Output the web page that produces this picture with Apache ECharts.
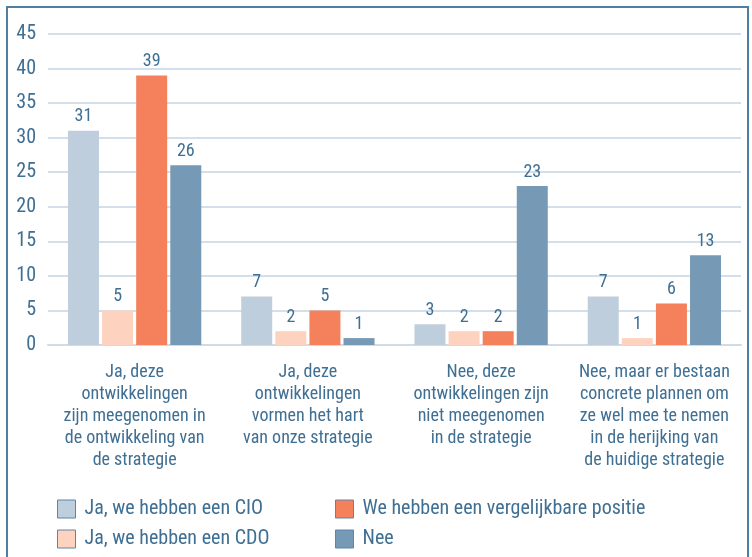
<!DOCTYPE html>
<html>
<head>
<meta charset="utf-8">
<script src="https://cdn.jsdelivr.net/npm/echarts@6/dist/echarts.min.js"></script>
<style>
  html, body { margin: 0; padding: 0; background: #fff; overflow: hidden; }
  #frame { position: absolute; left: 6px; top: 6px; width: 743px; height: 600px; border: 2px solid #4f7fa3; box-sizing: border-box; }
  #chart { position: absolute; left: 0; top: 0; width: 752px; height: 557px; }
</style>
</head>
<body>
<div id="frame"></div>
<div id="chart"></div>
<script>
// categorieen en reeksen
const categories = [
    'Ja, deze\nontwikkelingen\nzijn meegenomen in\nde ontwikkeling van\nde strategie',
    'Ja, deze\nontwikkelingen\nvormen het hart\nvan onze strategie',
    'Nee, deze\nontwikkelingen zijn\nniet meegenomen\nin de strategie',
    'Nee, maar er bestaan\nconcrete plannen om\nze wel mee te nemen\nin de herijking van\nde huidige strategie'
];
const seriesNames = [
    'Ja, we hebben een CIO',
    'Ja, we hebben een CDO',
    'We hebben een vergelijkbare positie',
    'Nee'
];
const cioValues = [31, 7, 3, 7];
const cdoValues = [5, 2, 2, 1];
const vergelijkbaarValues = [39, 5, 2, 6];
const neeValues = [26, 1, 23, 13];

const colors = ['#bfcedd', '#fdd3bf', '#f4805c', '#7699b5'];
const textColor = '#3f6f93';
const font = '"Liberation Sans Narrow", "Arial Narrow", "Roboto Condensed", sans-serif';

const myChart = echarts.init(document.getElementById('chart'));

const makeSeries = (name, data, color) => ({
    name: name,
    type: 'bar',
    data: data,
    barWidth: 31,
    barGap: '10%',
    itemStyle: { color: color },
    label: {
        show: true,
        position: 'top',
        distance: 5,
        color: textColor,
        fontFamily: font,
        fontSize: 18
    }
});

const legendBase = {
    orient: 'vertical',
    itemWidth: 18,
    itemHeight: 18,
    itemGap: 10,
    icon: 'rect',
    textStyle: { color: textColor, fontFamily: font, fontSize: 20, padding: [0, 0, 0, 4] },
    itemStyle: { borderColor: '#5a86a9', borderWidth: 1 }
};

const option = {
    animation: false,
    grid: { left: 48, right: 11, top: 34, bottom: 212 },
    legend: [
        Object.assign({}, legendBase, { left: 52, top: 494, data: [seriesNames[0], seriesNames[1]] }),
        Object.assign({}, legendBase, { left: 330, top: 494, data: [seriesNames[2], seriesNames[3]] })
    ],
    xAxis: {
        type: 'category',
        data: categories,
        axisLine: { lineStyle: { color: '#cfdbe7', width: 2 } },
        axisTick: { show: false },
        axisLabel: {
            color: textColor,
            fontFamily: font,
            fontSize: 18,
            lineHeight: 22,
            margin: 16,
            interval: 0
        }
    },
    yAxis: {
        type: 'value',
        min: 0,
        max: 45,
        interval: 5,
        axisLine: { show: false },
        axisTick: { show: false },
        axisLabel: { color: textColor, fontFamily: font, fontSize: 20, margin: 12 },
        splitLine: { lineStyle: { color: '#d3dfea', width: 2 } }
    },
    series: [
        makeSeries(seriesNames[0], cioValues, colors[0]),
        makeSeries(seriesNames[1], cdoValues, colors[1]),
        makeSeries(seriesNames[2], vergelijkbaarValues, colors[2]),
        makeSeries(seriesNames[3], neeValues, colors[3])
    ]
};
myChart.setOption(option);
</script>
</body>
</html>
